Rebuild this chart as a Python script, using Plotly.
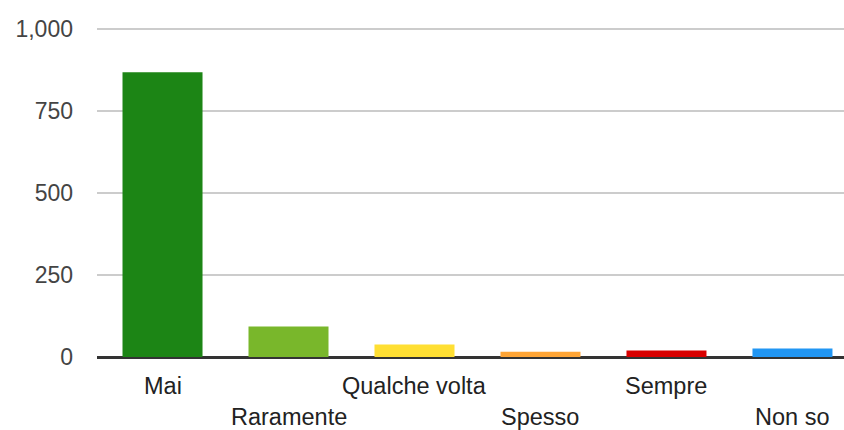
import plotly.graph_objects as go

categories = ["Mai", "Raramente", "Qualche volta", "Spesso", "Sempre", "Non so"]
values = [868, 93, 38, 16, 20, 26]
colors = ["#1c8515", "#79b72b", "#ffdf33", "#ffa535", "#d90000", "#2196f3"]
y_ticks = [0, 250, 500, 750, 1000]
y_tick_labels = ["0", "250", "500", "750", "1,000"]

FONT = "Arial, 'Liberation Sans', sans-serif"
x_pos = list(range(len(categories)))

fig = go.Figure()
fig.add_trace(go.Bar(
    x=x_pos, y=values,
    marker=dict(color=colors, line=dict(width=0)),
    width=0.635,
    hoverinfo="skip",
))

for i, cat in enumerate(categories):
    row = i % 2
    fig.add_annotation(
        x=i, xref="x", y=0, yref="paper",
        text=cat, showarrow=False,
        xanchor="center", yanchor="middle",
        yshift=-29 - row * 31,
        font=dict(family=FONT, size=23.5, color="#222222"),
    )

fig.update_layout(
    width=844, height=430,
    margin=dict(l=97, r=0, t=24, b=73),
    paper_bgcolor="white", plot_bgcolor="white",
    showlegend=False,
    font=dict(family=FONT, size=23, color="#444444"),
    xaxis=dict(
        range=[-0.52, 5.409],
        showticklabels=False, showgrid=False, zeroline=False,
        showline=False, ticks="",
        fixedrange=True,
    ),
    yaxis=dict(
        range=[0, 1015],
        tickvals=y_ticks, ticktext=y_tick_labels,
        showgrid=True, gridcolor="#cccccc", gridwidth=2,
        zeroline=True, zerolinecolor="#333333", zerolinewidth=3,
        showline=False, ticks="",
        ticklabelstandoff=23,
        tickfont=dict(family=FONT, size=23, color="#444444"),
        fixedrange=True,
    ),
)

fig.write_html(
    "out.html",
    config={"displayModeBar": False},
    post_script="document.body.style.margin='0';document.body.style.overflow='hidden';",
)
